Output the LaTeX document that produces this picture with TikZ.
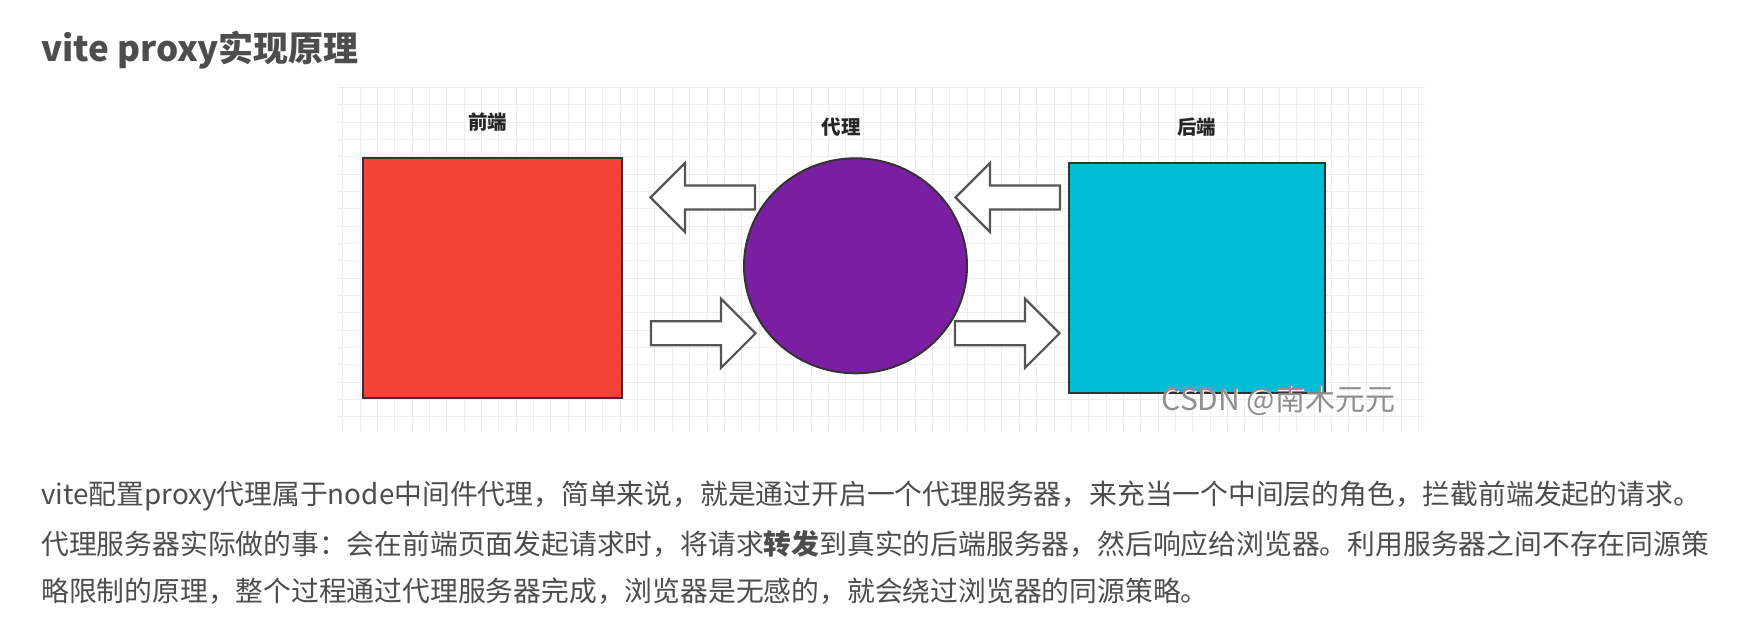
\documentclass[tikz,border=0pt]{standalone}
\usepackage{fontspec}
\setmainfont{Noto Sans CJK SC}
\usetikzlibrary{shapes.geometric}

\definecolor{bodytext}{HTML}{4D4D4D}
\definecolor{gridgray}{HTML}{EDEDED}
\definecolor{shapeline}{HTML}{333333}
\definecolor{arrowline}{HTML}{555555}
\definecolor{frontred}{HTML}{F44336}
\definecolor{proxypurple}{HTML}{7B1FA2}
\definecolor{backcyan}{HTML}{00BCD4}
\definecolor{markgray}{HTML}{8F8F8F}

\tikzset{
  gridline/.style={draw=gridgray, line width=1pt},
  block/.style={draw=shapeline, line width=2pt, inner sep=0pt},
  caption/.style={font=\fontsize{19.5}{22}\selectfont\bfseries, text=black!85, inner sep=0pt},
  para/.style={font=\fontsize{27.8}{32}\selectfont, text=bodytext, anchor=west, inner sep=0pt},
  heading/.style={font=\fontsize{35}{40}\selectfont\bfseries, text=bodytext, anchor=west, inner sep=0pt},
  blockarrow/.pic={
    \draw[draw=arrowline, fill=white, line width=2.2pt, line join=miter]
      (0,-12) -- (70,-12) -- (70,-34.5) -- (104.5,0) -- (70,34.5) -- (70,12) -- (0,12) -- cycle;
  }
}

\begin{document}
\begin{tikzpicture}[x=1pt, y=-1pt]
  \useasboundingbox[fill=white] (0,0) rectangle (1746,624);

  % heading
  \node[heading] (title) at (41,50) {vite proxy实现原理};

  % gridded canvas behind the diagram
  \begin{scope}
    \clip (338,87) rectangle (1425,432);
    \foreach \i in {-1,...,62} \draw[gridline] (360+\i*17.35,87) -- ++(0,345);
    \foreach \j in {0,...,20} \draw[gridline] (338,87.3+\j*17.35) -- ++(1087,0);
  \end{scope}

  % the three parties
  \node[block, fill=frontred, rectangle, minimum width=259pt, minimum height=240.5pt] (front) at (492.5,277.75) {};
  \node[block, fill=proxypurple, ellipse, minimum width=223pt, minimum height=215pt] (proxy) at (855.5,265.8) {};
  \node[block, fill=backcyan, rectangle, minimum width=256pt, minimum height=230.6pt] (back) at (1197,278) {};

  \node[caption] (frontlabel) at (487.7,121.7) {前端};
  \node[caption] (proxylabel) at (841,126.7) {代理};
  \node[caption] (backlabel) at (1196.7,126.7) {后端};

  % request / response block arrows
  \pic at (755,197.5) [rotate=180] {blockarrow};
  \pic at (651,333.3) {blockarrow};
  \pic at (1060,197.5) [rotate=180] {blockarrow};
  \pic at (955,333.3) {blockarrow};

  % watermark with a soft light halo
  \node[font=\fontsize{30}{32}\selectfont, text=white, inner sep=0pt] at (1279.5,401) {CSDN @南木元元};
  \node[font=\fontsize{30}{32}\selectfont, text=markgray, inner sep=0pt] (mark) at (1278.5,400) {CSDN @南木元元};

  % explanation
  \node[para] (line1) at (41,496) {vite配置proxy代理属于node中间件代理，简单来说，就是通过开启一个代理服务器，来充当一个中间层的角色，拦截前端发起的请求。};
  \node[para] (line2) at (41,544) {代理服务器实际做的事：会在前端页面发起请求时，将请求\textbf{转发}到真实的后端服务器，然后响应给浏览器。利用服务器之间不存在同源策};
  \node[para] (line3) at (41,591) {略限制的原理，整个过程通过代理服务器完成，浏览器是无感的，就会绕过浏览器的同源策略。};
\end{tikzpicture}
\end{document}
